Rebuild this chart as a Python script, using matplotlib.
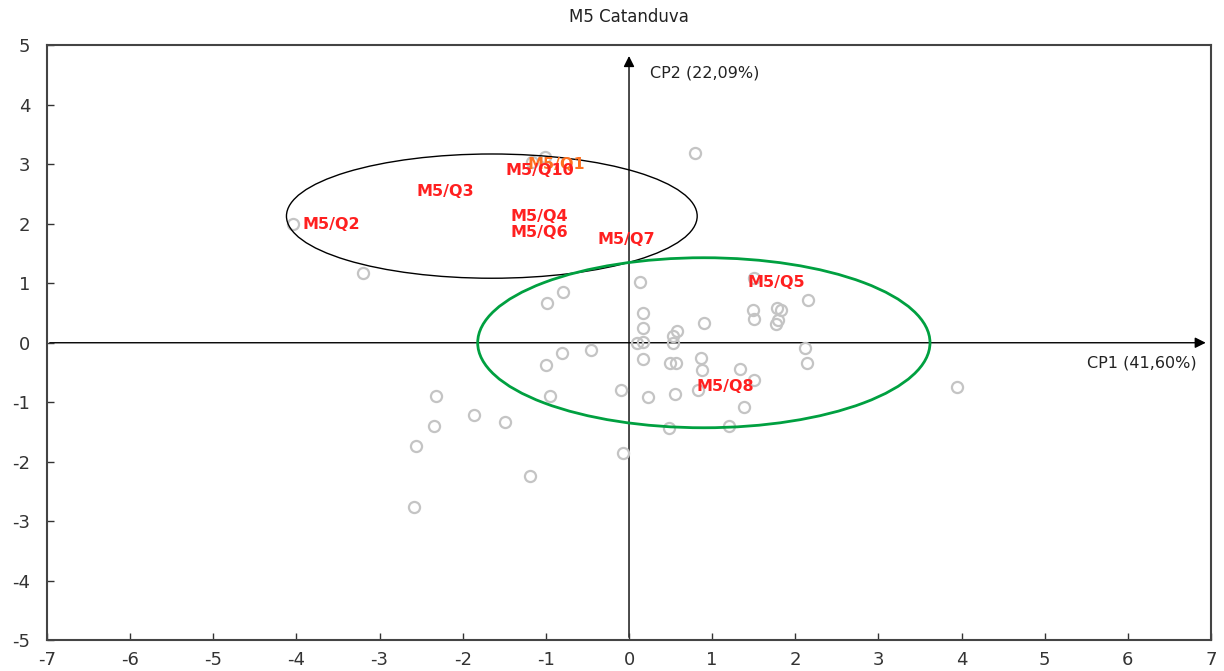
import numpy as np
import matplotlib
matplotlib.use("Agg")
from matplotlib import pyplot as plt
from matplotlib.patches import Ellipse

# scores of the observations on the first two components
cp1 = [0.79, -4.04, -3.20, -1.17, -1.01, 0.13, -0.79, -0.99, 0.17, 0.17,
       0.10, 0.17, 0.58, 0.53, 0.53, 0.90, 1.49, 1.50, 1.78, 1.83,
       1.79, 1.77, 2.15, 2.12, 2.14, 1.50, -0.46, -0.81, -1.00, 0.17,
       0.49, 0.57, 0.87, 0.88, 1.34, 1.50, 0.83, 1.38, 1.20, 0.48,
       0.55, 0.23, -0.10, -0.95, -1.86, -1.49, -0.07, -2.32, -2.35, -2.56,
       -1.19, -2.59, 3.95]
cp2 = [3.20, 1.99, 1.17, 3.04, 3.12, 1.02, 0.85, 0.67, 0.50, 0.25,
       0.00, 0.01, 0.19, 0.11, 0.00, 0.33, 0.55, 0.40, 0.58, 0.55,
       0.38, 0.31, 0.72, -0.09, -0.34, 1.09, -0.12, -0.17, -0.38, -0.27,
       -0.34, -0.34, -0.26, -0.46, -0.45, -0.63, -0.80, -1.08, -1.40, -1.43,
       -0.86, -0.92, -0.80, -0.90, -1.21, -1.34, -1.86, -0.89, -1.40, -1.74,
       -2.24, -2.76, -0.74]

# variable labels (position of the text)
var_names = ["M5/Q2", "M5/Q3", "M5/Q1", "M5/Q10", "M5/Q4", "M5/Q6", "M5/Q7", "M5/Q5", "M5/Q8"]
var_x = [-3.93, -2.55, -1.22, -1.49, -1.43, -1.43, -0.38, 1.42, 0.81]
var_y = [1.99, 2.55, 2.99, 2.90, 2.13, 1.86, 1.73, 1.02, -0.73]
var_colors = ["#ff2020", "#ff2020", "#ff7020", "#ff2020", "#ff2020",
              "#ff2020", "#ff2020", "#ff2020", "#ff2020"]

# grupos
grp_centers = [(-1.65, 2.13), (0.90, 0.00)]
grp_widths = [4.94, 5.44]
grp_heights = [2.09, 2.86]
grp_colors = ["black", "#00a040"]
grp_lw = [1.0, 2.0]

plt.rcParams["font.family"] = ["DejaVu Sans"]
plt.rcParams["axes.unicode_minus"] = False

fig = plt.figure(figsize=(12.24, 6.71), dpi=100)
ax = fig.add_axes([0.0384, 0.0462, 0.951, 0.886])

ax.plot(cp1, cp2, linestyle="none", marker="o", markersize=8,
        markerfacecolor="none", markeredgecolor="#c4c4c4", markeredgewidth=1.6, zorder=2)

for c, w, h, col, lw in zip(grp_centers, grp_widths, grp_heights, grp_colors, grp_lw):
    ax.add_patch(Ellipse(c, w, h, fill=False, edgecolor=col, linewidth=lw, zorder=3))

for name, x, y, col in zip(var_names, var_x, var_y, var_colors):
    ax.text(x, y, name, color=col, fontsize=11.5, fontweight="bold",
            ha="left", va="center", zorder=4)

# eixos dos componentes
ax.annotate("", xy=(6.97, 0), xytext=(-7, 0),
            arrowprops=dict(arrowstyle="-|>", color="black", lw=1.0, mutation_scale=16), zorder=1)
ax.annotate("", xy=(0, 4.87), xytext=(0, -5),
            arrowprops=dict(arrowstyle="-|>", color="black", lw=1.0, mutation_scale=16), zorder=1)
ax.text(6.83, -0.34, "CP1 (41,60%)", fontsize=11.5, ha="right", va="center", color="#222222")
ax.text(0.25, 4.54, "CP2 (22,09%)", fontsize=11.5, ha="left", va="center", color="#222222")

ax.set_xlim(-7, 7)
ax.set_ylim(-5, 5)
ax.set_xticks(range(-7, 8))
ax.set_yticks(range(-5, 6))
ax.tick_params(direction="in", length=5, width=1, labelsize=13, colors="#333333",
               top=False, right=False)
ax.tick_params(axis="x", pad=8)
ax.tick_params(axis="y", pad=12)
for s in ax.spines.values():
    s.set_color("#444444")
    s.set_linewidth(1.5)

ax.set_title("M5 Catanduva", fontsize=12, color="#222222", pad=17)

plt.savefig("out.png", dpi=100)
